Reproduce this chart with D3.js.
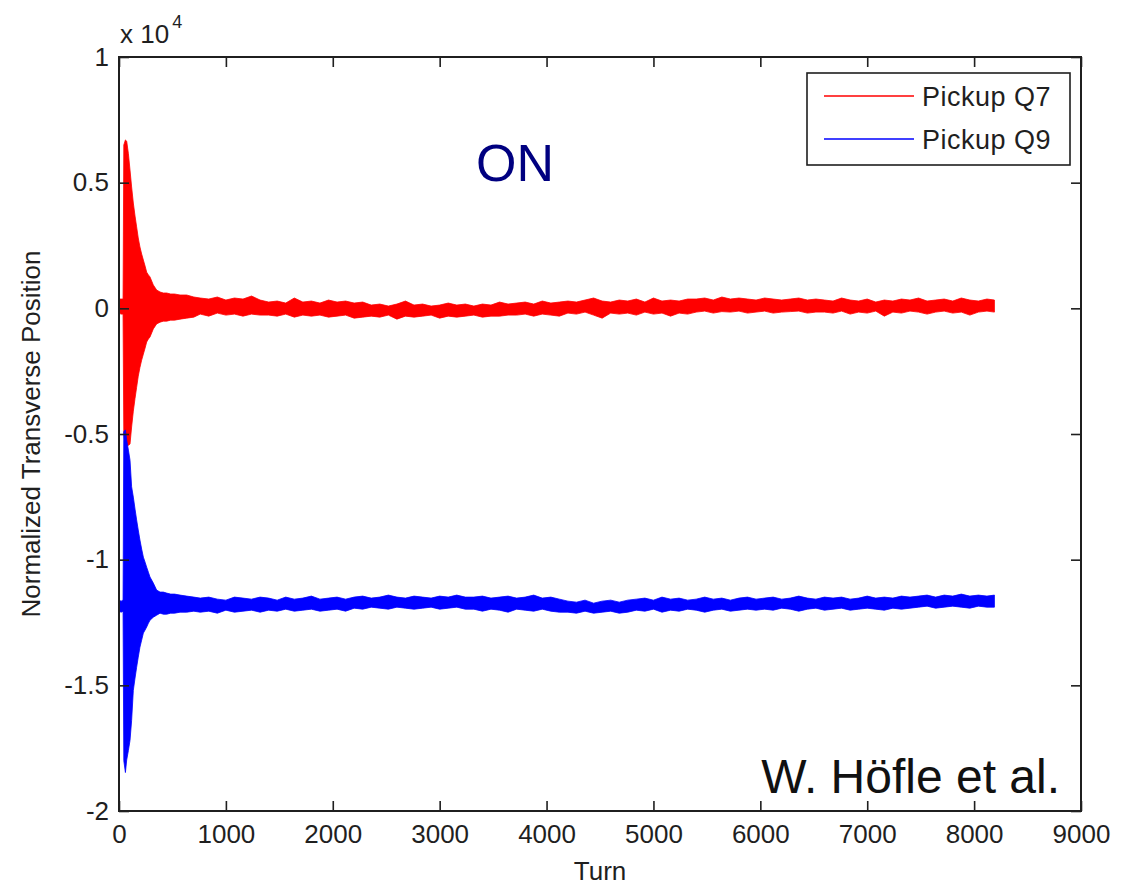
<!DOCTYPE html>
<html>
<head>
<meta charset="utf-8">
<script src="https://cdn.jsdelivr.net/npm/d3@7"></script>
<style>
  html, body { margin: 0; padding: 0; background: #fff; }
  svg { display: block; font-family: "Liberation Sans", Arial, sans-serif; }
</style>
</head>
<body>
<svg id="chart" width="1128" height="885"></svg>
<script>
// ---- data ----
const turns = [
  0,20,38,45,60,72,88,103,118,134,150,165,180,196,212,228,244,259,275,290,321,352,384,415,446,483,520,571,633,700,
  760,840,920,1000,1080,1160,1240,1320,
  1400,1480,1560,1640,1720,1800,1880,1960,2040,2120,
  2200,2280,
  2360,2440,2520,2600,2680,2760,2840,2920,3000,3080,3160,3240,3320,3400,3480,3560,3640,
  3720,3800,3880,3960,4040,4120,
  4200,4280,4360,4440,4520,4600,4680,4760,4840,4920,5000,5080,5160,5240,5320,
  5400,5480,5560,5640,5720,5800,5880,5960,6040,6120,6200,6280,6360,6440,6520,
  6600,6680,6760,6840,6920,7000,7080,7160,7240,7320,7400,7480,7560,7640,7720,7800,7880,7960,8040,8120,
  8190
];
// Pickup Q7 envelope (upper / lower edge of the oscillation band)
const q7Upper = [
  370,370,370,6500,6700,6650,6150,5500,4830,4190,3670,3240,2800,2440,2160,1920,1680,1440,1330,1250,930,730,650,610,610,570,570,530,530,450,
  410,370,450,330,410,370,490,330,
  250,290,210,410,250,290,210,330,250,290,
  210,250,
  130,170,90,170,290,130,170,90,130,210,130,170,90,170,130,250,170,
  210,250,170,290,210,250,
  290,250,330,410,290,250,330,290,370,250,410,290,330,290,370,
  370,410,330,450,370,410,370,330,410,370,330,370,410,330,370,
  330,290,410,330,290,370,250,330,290,370,330,410,290,330,370,290,410,330,290,370,
  330
];
const q7Lower = [
  -190,-230,-230,-5000,-5500,-5500,-5450,-5400,-4720,-4090,-3580,-3140,-2700,-2350,-2060,-1820,-1580,-1340,-1220,-1140,-820,-620,-550,-510,-510,-470,-470,-430,-390,-350,
  -230,-310,-190,-270,-230,-310,-230,-270,
  -270,-310,-230,-350,-270,-310,-270,-350,-310,-270,
  -390,-350,
  -310,-350,-270,-430,-310,-350,-310,-270,-390,-310,-350,-310,-270,-350,-310,-310,-270,
  -270,-230,-310,-230,-270,-310,
  -190,-230,-150,-270,-390,-190,-230,-190,-270,-150,-230,-190,-310,-190,-230,
  -150,-110,-190,-130,-150,-110,-190,-150,-110,-190,-150,-130,-110,-190,-150,
  -150,-190,-110,-230,-150,-190,-110,-310,-150,-190,-110,-150,-230,-150,-110,-190,-150,-270,-150,-110,
  -150
];
// Pickup Q9 envelope
const q9Upper = [
  -11610,-11650,-11610,-4900,-4840,-5240,-5640,-6040,-7100,-7510,-7990,-8420,-8820,-9220,-9580,-9900,-10100,-10300,-10500,-10690,-10930,-11210,-11290,-11290,-11330,-11370,-11370,-11410,-11450,-11490,
  -11530,-11490,-11570,-11610,-11490,-11530,-11570,-11490,
  -11530,-11610,-11490,-11570,-11530,-11450,-11570,-11530,-11490,-11570,
  -11490,-11450,-11530,-11490,-11410,-11490,-11530,-11450,-11490,-11530,-11450,-11490,-11410,-11490,
  -11490,-11450,-11530,-11490,-11450,-11530,-11490,-11410,-11530,-11490,-11570,
  -11650,-11690,-11610,-11730,-11650,-11610,-11690,-11610,
  -11570,-11530,-11610,-11490,-11570,-11530,-11610,-11570,-11490,-11570,-11530,-11610,-11530,-11490,-11570,
  -11530,-11490,-11570,-11530,-11450,-11530,-11570,-11490,-11530,-11490,-11570,-11530,-11450,-11530,-11490,-11530,-11450,-11490,
  -11450,-11410,-11490,-11410,-11450,-11370,-11450,-11410,-11450,
  -11410
];
const q9Lower = [
  -12050,-12090,-12050,-18000,-18470,-17970,-17590,-17190,-16400,-15200,-14710,-14280,-13880,-13480,-13200,-12920,-12800,-12680,-12530,-12410,-12290,-12210,-12130,-12170,-12170,-12130,-12130,-12090,-12090,-12050,
  -12090,-12050,-12130,-12010,-12090,-12050,-12010,-12090,
  -12010,-12050,-11970,-12050,-12010,-11970,-12050,-12010,-11970,-12050,
  -11930,-11970,-11890,-11930,-11970,-11890,-11930,-11970,-11930,-11890,-11970,-11930,-11890,-11970,
  -11970,-12050,-11970,-12010,-12090,-11970,-12010,-12050,-11970,-12050,-12090,
  -12090,-12130,-12050,-12130,-12090,-12050,-12130,-12090,
  -12010,-12050,-11970,-12090,-12010,-12050,-11970,-12010,-12090,-12010,-11970,-12050,-12010,-11970,-12010,
  -11970,-12010,-11930,-11970,-12050,-11970,-11930,-12010,-11970,-11930,-12010,-11970,-11930,-11970,-12010,-11930,-11970,-11930,
  -11890,-11850,-11930,-11890,-11850,-11890,-11930,-11850,-11890,
  -11890
];
const xTicks = [0,1000,2000,3000,4000,5000,6000,7000,8000,9000];
const yTicks = [-20000,-15000,-10000,-5000,0,5000,10000];
const yTickLabels = ["-2","-1.5","-1","-0.5","0","0.5","1"];
const seriesNames = ["Pickup Q7","Pickup Q9"];
const seriesColors = ["#ff0000","#0000ff"];

// ---- layout ----
const svg = d3.select("#chart");
const L = 119, R = 1081, T = 57, B = 811;
const x = d3.scaleLinear().domain([0, 9000]).range([L, R]);
const y = d3.scaleLinear().domain([-20000, 10000]).range([B, T]);
const axisColor = "#1f1f1f";
const fontSize = 26;

svg.append("defs").append("clipPath").attr("id", "clip")
  .append("rect").attr("x", L).attr("y", T).attr("width", R - L).attr("height", B - T);

const bands = [
  {upper: q7Upper, lower: q7Lower, color: seriesColors[0]},
  {upper: q9Upper, lower: q9Lower, color: seriesColors[1]}
];
const area = d3.area()
  .x(d => x(d.t))
  .y0(d => y(d.lo))
  .y1(d => y(d.hi));

const plot = svg.append("g").attr("clip-path", "url(#clip)");
bands.forEach(b => {
  const pts = turns.map((t, i) => ({t, hi: b.upper[i], lo: b.lower[i]}));
  plot.append("path").datum(pts)
    .attr("d", area)
    .attr("fill", b.color)
    .attr("stroke", b.color)
    .attr("stroke-width", 0.8);
});

// ---- axes (MATLAB style: box with inward ticks) ----
const tickLen = 10;
const axB = svg.append("g").attr("transform", `translate(0,${B})`)
  .call(d3.axisBottom(x).tickValues(xTicks).tickSize(-tickLen).tickPadding(14).tickFormat(d3.format("d")));
const axT = svg.append("g").attr("transform", `translate(0,${T})`)
  .call(d3.axisTop(x).tickValues(xTicks).tickSize(-tickLen).tickFormat(""));
const axL = svg.append("g").attr("transform", `translate(${L},0)`)
  .call(d3.axisLeft(y).tickValues(yTicks).tickSize(-tickLen).tickPadding(10)
    .tickFormat(d => yTickLabels[yTicks.indexOf(d)]));
const axR = svg.append("g").attr("transform", `translate(${R},0)`)
  .call(d3.axisRight(y).tickValues(yTicks).tickSize(-tickLen).tickFormat(""));

[axB, axT, axL, axR].forEach(g => {
  g.select(".domain").remove();
  g.selectAll(".tick line").attr("stroke", axisColor).attr("stroke-width", 1.6);
  g.selectAll(".tick text")
    .attr("fill", axisColor)
    .style("font-family", '"Liberation Sans", Arial, sans-serif')
    .style("font-size", fontSize + "px");
});
svg.append("rect").attr("x", L).attr("y", T).attr("width", R - L).attr("height", B - T)
  .attr("fill", "none").attr("stroke", axisColor).attr("stroke-width", 2);

// exponent label
const ex = svg.append("text").attr("x", 120).attr("y", 43)
  .attr("fill", axisColor).style("font-size", fontSize + "px");
ex.append("tspan").text("x 10");
ex.append("tspan").attr("dx", 3).attr("dy", -15).style("font-size", "18px").text("4");

// axis titles
svg.append("text").attr("x", (L + R) / 2).attr("y", 880)
  .attr("text-anchor", "middle").attr("fill", axisColor)
  .style("font-size", fontSize + "px").text("Turn");
svg.append("text").attr("transform", `translate(40,${(T + B) / 2}) rotate(-90)`)
  .attr("text-anchor", "middle").attr("fill", axisColor)
  .style("font-size", fontSize + "px").text("Normalized Transverse Position");

// annotations
svg.append("text").attr("x", 515).attr("y", 181).attr("text-anchor", "middle")
  .attr("fill", "#000080").style("font-size", "52px").text("ON");
svg.append("text").attr("x", 1060).attr("y", 793).attr("text-anchor", "end")
  .attr("fill", "#111").style("font-size", "48px").text("W. Höfle et al.");

// legend
const leg = svg.append("g");
leg.append("rect").attr("x", 807).attr("y", 73).attr("width", 263).attr("height", 92)
  .attr("fill", "#fff").attr("stroke", axisColor).attr("stroke-width", 1.6);
seriesNames.forEach((name, i) => {
  const ly = 96 + i * 43;
  leg.append("line").attr("x1", 824).attr("x2", 914).attr("y1", ly).attr("y2", ly)
    .attr("stroke", seriesColors[i]).attr("stroke-width", 1.6);
  leg.append("text").attr("x", 922).attr("y", ly + 10).attr("fill", axisColor)
    .style("font-size", "27px").style("letter-spacing", "0.5px").text(name);
});
</script>
</body>
</html>
